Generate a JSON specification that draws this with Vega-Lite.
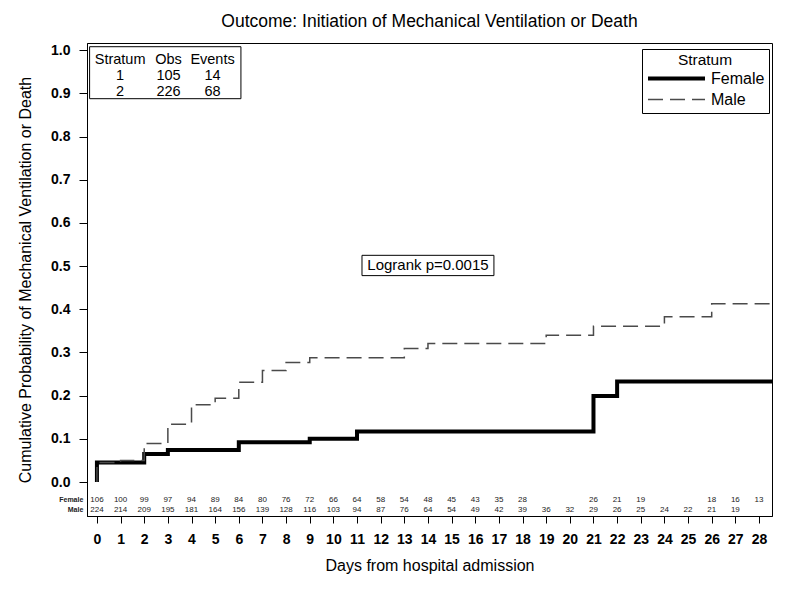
{
  "$schema": "https://vega.github.io/schema/vega-lite/v6.json",
  "width": 685,
  "height": 473,
  "autosize": "none",
  "padding": {"left": 87, "top": 43, "right": 15, "bottom": 74},
  "background": "white",
  "title": {"text": "Outcome: Initiation of Mechanical Ventilation or Death", "fontSize": 17.5, "fontWeight": "normal", "color": "black", "offset": 13, "anchor": "middle"},
  "config": {
    "font": "Liberation Sans",
    "view": {"stroke": "black", "strokeWidth": 1},
    "axis": {"grid": false, "domainColor": "black", "tickColor": "black", "labelColor": "black", "titleColor": "black", "domainWidth": 1, "tickWidth": 1}
  },
  "datasets": {
    "curves": [
      {"group": "Female", "day": 0, "p": 0},
      {"group": "Female", "day": 0, "p": 0.045},
      {"group": "Female", "day": 2, "p": 0.065},
      {"group": "Female", "day": 3, "p": 0.074},
      {"group": "Female", "day": 6, "p": 0.092},
      {"group": "Female", "day": 9, "p": 0.1},
      {"group": "Female", "day": 11, "p": 0.117},
      {"group": "Female", "day": 21, "p": 0.199},
      {"group": "Female", "day": 22, "p": 0.233},
      {"group": "Female", "day": 28.6, "p": 0.233},
      {"group": "Male", "day": 0, "p": 0},
      {"group": "Male", "day": 0, "p": 0.045},
      {"group": "Male", "day": 1, "p": 0.05},
      {"group": "Male", "day": 2, "p": 0.089},
      {"group": "Male", "day": 3, "p": 0.134},
      {"group": "Male", "day": 4, "p": 0.179},
      {"group": "Male", "day": 5, "p": 0.194},
      {"group": "Male", "day": 6, "p": 0.231},
      {"group": "Male", "day": 7, "p": 0.258},
      {"group": "Male", "day": 8, "p": 0.277},
      {"group": "Male", "day": 9, "p": 0.288},
      {"group": "Male", "day": 13, "p": 0.309},
      {"group": "Male", "day": 14, "p": 0.321},
      {"group": "Male", "day": 19, "p": 0.34},
      {"group": "Male", "day": 21, "p": 0.361},
      {"group": "Male", "day": 24, "p": 0.383},
      {"group": "Male", "day": 26, "p": 0.413},
      {"group": "Male", "day": 28.6, "p": 0.413}
    ],
    "atrisk": [
      {"group": "Female", "day": 0, "n": 106},
      {"group": "Female", "day": 1, "n": 100},
      {"group": "Female", "day": 2, "n": 99},
      {"group": "Female", "day": 3, "n": 97},
      {"group": "Female", "day": 4, "n": 94},
      {"group": "Female", "day": 5, "n": 89},
      {"group": "Female", "day": 6, "n": 84},
      {"group": "Female", "day": 7, "n": 80},
      {"group": "Female", "day": 8, "n": 76},
      {"group": "Female", "day": 9, "n": 72},
      {"group": "Female", "day": 10, "n": 66},
      {"group": "Female", "day": 11, "n": 64},
      {"group": "Female", "day": 12, "n": 58},
      {"group": "Female", "day": 13, "n": 54},
      {"group": "Female", "day": 14, "n": 48},
      {"group": "Female", "day": 15, "n": 45},
      {"group": "Female", "day": 16, "n": 43},
      {"group": "Female", "day": 17, "n": 35},
      {"group": "Female", "day": 18, "n": 28},
      {"group": "Female", "day": 21, "n": 26},
      {"group": "Female", "day": 22, "n": 21},
      {"group": "Female", "day": 23, "n": 19},
      {"group": "Female", "day": 26, "n": 18},
      {"group": "Female", "day": 27, "n": 16},
      {"group": "Female", "day": 28, "n": 13},
      {"group": "Male", "day": 0, "n": 224},
      {"group": "Male", "day": 1, "n": 214},
      {"group": "Male", "day": 2, "n": 209},
      {"group": "Male", "day": 3, "n": 195},
      {"group": "Male", "day": 4, "n": 181},
      {"group": "Male", "day": 5, "n": 164},
      {"group": "Male", "day": 6, "n": 156},
      {"group": "Male", "day": 7, "n": 139},
      {"group": "Male", "day": 8, "n": 128},
      {"group": "Male", "day": 9, "n": 116},
      {"group": "Male", "day": 10, "n": 103},
      {"group": "Male", "day": 11, "n": 94},
      {"group": "Male", "day": 12, "n": 87},
      {"group": "Male", "day": 13, "n": 76},
      {"group": "Male", "day": 14, "n": 64},
      {"group": "Male", "day": 15, "n": 54},
      {"group": "Male", "day": 16, "n": 49},
      {"group": "Male", "day": 17, "n": 42},
      {"group": "Male", "day": 18, "n": 39},
      {"group": "Male", "day": 19, "n": 36},
      {"group": "Male", "day": 20, "n": 32},
      {"group": "Male", "day": 21, "n": 29},
      {"group": "Male", "day": 22, "n": 26},
      {"group": "Male", "day": 23, "n": 25},
      {"group": "Male", "day": 24, "n": 24},
      {"group": "Male", "day": 25, "n": 22},
      {"group": "Male", "day": 26, "n": 21},
      {"group": "Male", "day": 27, "n": 19}
    ],
    "groups": [{"group": "Female"}, {"group": "Male"}],
    "statsHeader": [{"c1": "Stratum", "c2": "Obs", "c3": "Events"}],
    "stats": [
      {"Stratum": 1, "Obs": 105, "Events": 14},
      {"Stratum": 2, "Obs": 226, "Events": 68}
    ],
    "test": [{"label": "Logrank p=0.0015"}]
  },
  "layer": [
    {
      "data": {"name": "curves"},
      "mark": {"type": "line", "interpolate": "step-after", "clip": true},
      "encoding": {
        "x": {
          "field": "day", "type": "quantitative",
          "scale": {"domain": [-0.42, 28.55], "nice": false, "zero": false},
          "axis": {
            "values": [0,1,2,3,4,5,6,7,8,9,10,11,12,13,14,15,16,17,18,19,20,21,22,23,24,25,26,27,28],
            "tickCount": 40,
            "title": "Days from hospital admission",
            "tickSize": 7, "labelFontSize": 14, "labelFontWeight": "bold", "labelPadding": 9,
            "labelFlush": false, "labelOverlap": false,
            "titleFontSize": 16, "titleFontWeight": "normal", "titlePadding": 11
          }
        },
        "y": {
          "field": "p", "type": "quantitative",
          "scale": {"domain": [-0.0787, 1.0167], "nice": false, "zero": false},
          "axis": {
            "values": [0, 0.1, 0.2, 0.3, 0.4, 0.5, 0.6, 0.7, 0.8, 0.9, 1.0],
            "tickCount": 20,
            "format": ".1f",
            "title": "Cumulative Probability of Mechanical Ventilation or Death",
            "tickSize": 8, "labelFontSize": 14, "labelFontWeight": "bold", "labelPadding": 9,
            "labelFlush": false, "labelOverlap": false,
            "titleFontSize": 16, "titleFontWeight": "normal", "titlePadding": 17
          }
        },
        "color": {
          "field": "group", "type": "nominal",
          "scale": {"domain": ["Female", "Male"], "range": ["black", "#4a4a4a"]},
          "legend": {"title": "Stratum", "orient": "none", "legendX": 555, "legendY": 6, "titleAnchor": "middle", "titleFontSize": 15.5, "titleFontWeight": "normal", "titleColor": "black", "labelFontSize": 16, "labelColor": "black", "symbolType": "stroke", "symbolSize": 3249, "clipHeight": 18, "rowPadding": 3, "titlePadding": 1, "strokeColor": "black", "padding": 4, "labelOffset": 4}
        },
        "strokeDash": {
          "field": "group", "type": "nominal",
          "scale": {"domain": ["Female", "Male"], "range": [[1, 0], [15, 7]]},
          "legend": {"title": "Stratum", "orient": "none", "legendX": 555, "legendY": 6, "titleAnchor": "middle", "titleFontSize": 15.5, "titleFontWeight": "normal", "titleColor": "black", "labelFontSize": 16, "labelColor": "black", "symbolType": "stroke", "symbolSize": 3249, "clipHeight": 18, "rowPadding": 3, "titlePadding": 1, "strokeColor": "black", "padding": 4, "labelOffset": 4}
        },
        "strokeWidth": {
          "field": "group", "type": "ordinal",
          "scale": {"domain": ["Female", "Male"], "range": [4, 1.5]},
          "legend": {"title": "Stratum", "orient": "none", "legendX": 555, "legendY": 6, "titleAnchor": "middle", "titleFontSize": 15.5, "titleFontWeight": "normal", "titleColor": "black", "labelFontSize": 16, "labelColor": "black", "symbolType": "stroke", "symbolSize": 3249, "clipHeight": 18, "rowPadding": 3, "titlePadding": 1, "strokeColor": "black", "padding": 4, "labelOffset": 4}
        }
      }
    },
    {
      "data": {"name": "atrisk"},
      "transform": [{"filter": "datum.group == 'Female'"}],
      "mark": {"type": "text", "fontSize": 8, "color": "#222", "baseline": "middle"},
      "encoding": {
        "x": {"field": "day", "type": "quantitative"},
        "y": {"datum": -0.042},
        "text": {"field": "n", "type": "quantitative"}
      }
    },
    {
      "data": {"name": "atrisk"},
      "transform": [{"filter": "datum.group == 'Male'"}],
      "mark": {"type": "text", "fontSize": 8, "color": "#222", "baseline": "middle"},
      "encoding": {
        "x": {"field": "day", "type": "quantitative"},
        "y": {"datum": -0.0637},
        "text": {"field": "n", "type": "quantitative"}
      }
    },
    {
      "data": {"name": "groups"},
      "transform": [{"filter": "datum.group == 'Female'"}],
      "mark": {"type": "text", "fontSize": 7, "fontWeight": "bold", "color": "#222", "align": "right", "baseline": "middle"},
      "encoding": {
        "x": {"datum": -0.575},
        "y": {"datum": -0.042},
        "text": {"field": "group", "type": "nominal"}
      }
    },
    {
      "data": {"name": "groups"},
      "transform": [{"filter": "datum.group == 'Male'"}],
      "mark": {"type": "text", "fontSize": 7, "fontWeight": "bold", "color": "#222", "align": "right", "baseline": "middle"},
      "encoding": {
        "x": {"datum": -0.575},
        "y": {"datum": -0.0637},
        "text": {"field": "group", "type": "nominal"}
      }
    },
    {
      "data": {"name": "statsHeader"},
      "mark": {"type": "rect", "fill": "white", "stroke": "black", "strokeWidth": 1},
      "encoding": {
        "x": {"datum": -0.31},
        "x2": {"datum": 6.09},
        "y": {"datum": 1.0081},
        "y2": {"datum": 0.8877}
      }
    },
    {
      "data": {"name": "statsHeader"},
      "layer": [
        {"mark": {"type": "text", "fontSize": 14.5, "color": "black", "baseline": "middle"}, "encoding": {"x": {"datum": 0.98}, "y": {"datum": 0.9769}, "text": {"field": "c1", "type": "nominal"}}},
        {"mark": {"type": "text", "fontSize": 14.5, "color": "black", "baseline": "middle"}, "encoding": {"x": {"datum": 3.03}, "y": {"datum": 0.9769}, "text": {"field": "c2", "type": "nominal"}}},
        {"mark": {"type": "text", "fontSize": 14.5, "color": "black", "baseline": "middle"}, "encoding": {"x": {"datum": 4.89}, "y": {"datum": 0.9769}, "text": {"field": "c3", "type": "nominal"}}}
      ]
    },
    {
      "data": {"name": "stats"},
      "transform": [{"filter": "datum.Stratum == 1"}],
      "layer": [
        {"mark": {"type": "text", "fontSize": 14.5, "color": "black", "baseline": "middle"}, "encoding": {"x": {"datum": 0.98}, "y": {"datum": 0.9398}, "text": {"field": "Stratum", "type": "nominal"}}},
        {"mark": {"type": "text", "fontSize": 14.5, "color": "black", "baseline": "middle"}, "encoding": {"x": {"datum": 3.03}, "y": {"datum": 0.9398}, "text": {"field": "Obs", "type": "nominal"}}},
        {"mark": {"type": "text", "fontSize": 14.5, "color": "black", "baseline": "middle"}, "encoding": {"x": {"datum": 4.89}, "y": {"datum": 0.9398}, "text": {"field": "Events", "type": "nominal"}}}
      ]
    },
    {
      "data": {"name": "stats"},
      "transform": [{"filter": "datum.Stratum == 2"}],
      "layer": [
        {"mark": {"type": "text", "fontSize": 14.5, "color": "black", "baseline": "middle"}, "encoding": {"x": {"datum": 0.98}, "y": {"datum": 0.9028}, "text": {"field": "Stratum", "type": "nominal"}}},
        {"mark": {"type": "text", "fontSize": 14.5, "color": "black", "baseline": "middle"}, "encoding": {"x": {"datum": 3.03}, "y": {"datum": 0.9028}, "text": {"field": "Obs", "type": "nominal"}}},
        {"mark": {"type": "text", "fontSize": 14.5, "color": "black", "baseline": "middle"}, "encoding": {"x": {"datum": 4.89}, "y": {"datum": 0.9028}, "text": {"field": "Events", "type": "nominal"}}}
      ]
    },
    {
      "data": {"name": "test"},
      "layer": [
        {"mark": {"type": "rect", "fill": "white", "stroke": "black", "strokeWidth": 1}, "encoding": {"x": {"datum": 11.21}, "x2": {"datum": 16.79}, "y": {"datum": 0.525}, "y2": {"datum": 0.478}}},
        {"mark": {"type": "text", "fontSize": 15, "color": "black", "baseline": "middle"}, "encoding": {"x": {"datum": 14.0}, "y": {"datum": 0.502}, "text": {"field": "label", "type": "nominal"}}}
      ]
    }
  ]
}
